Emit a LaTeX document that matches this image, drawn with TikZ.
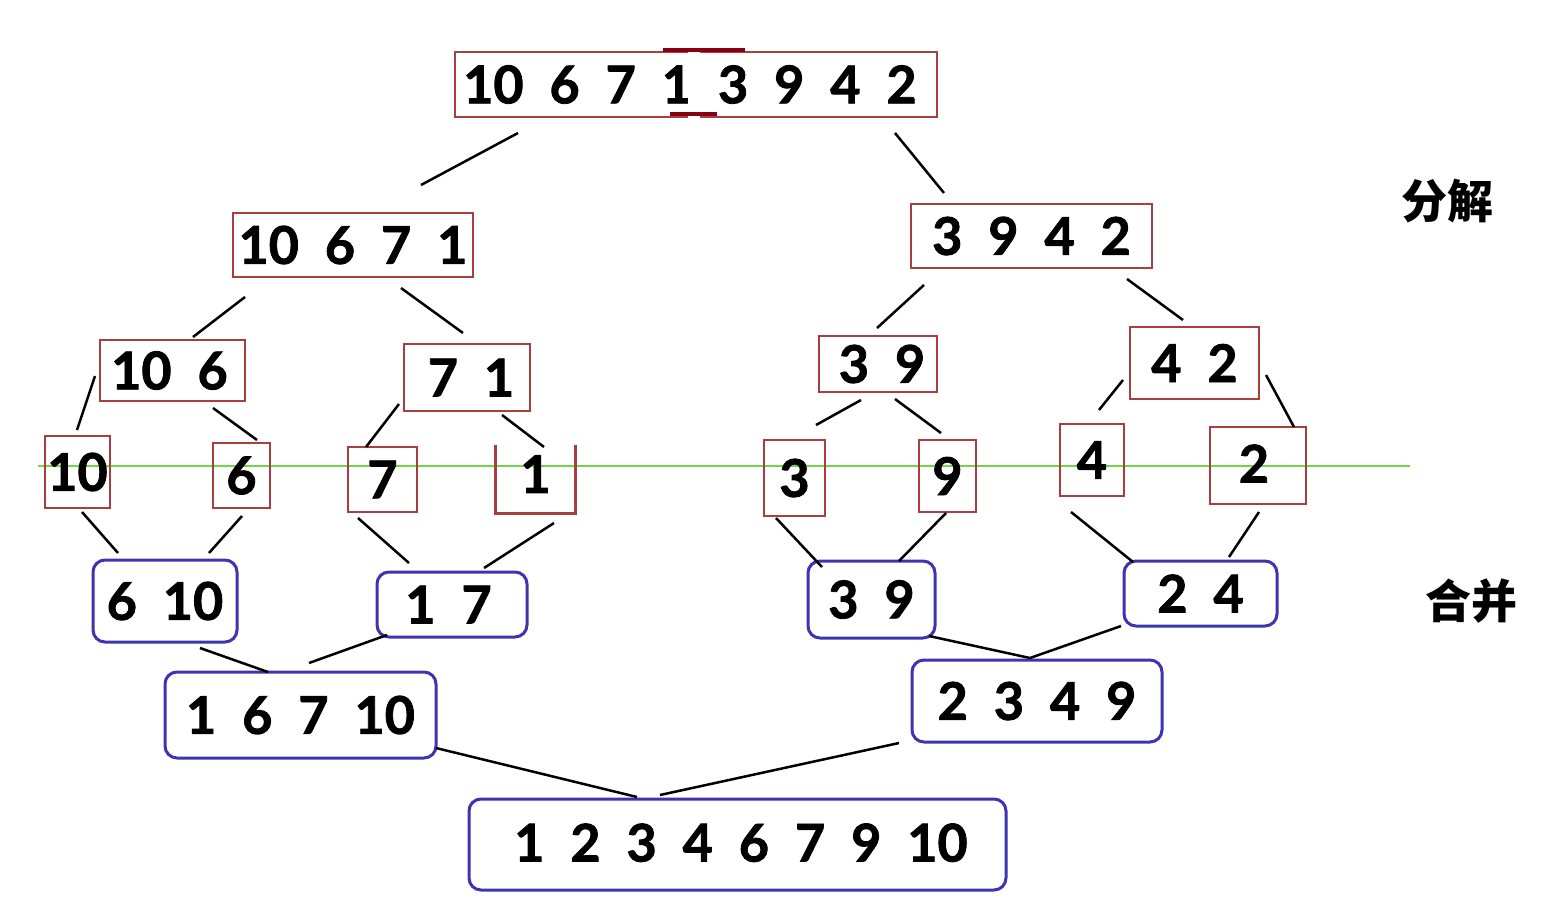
\documentclass[tikz,border=0pt]{standalone}
\usepackage{fontspec}
\setmainfont{Lato}[BoldFeatures={FakeBold=1.6}]
\newfontfamily\cjkfont{Noto Sans CJK SC}
\newcommand\numfont{\fontsize{52}{60}\selectfont\bfseries\spaceskip=0.5em\relax}
\newcommand\lnk[4]{\draw[link] ([shift={(#2)}]#1.center) -- ([shift={(#4)}]#3.center);}
\definecolor{splitred}{RGB}{170,62,62}
\definecolor{mergeblue}{RGB}{62,52,178}
\definecolor{markred}{RGB}{135,0,18}
\definecolor{midgreen}{RGB}{110,215,70}
\begin{document}
\begin{tikzpicture}[x=1pt,y=-1pt,
  splitbox/.style={draw=splitred,line width=2.8pt,inner sep=0pt,font=\numfont},
  mergebox/.style={draw=mergeblue,line width=3pt,rounded corners=12pt,inner sep=0pt,font=\numfont},
  link/.style={line width=2.5pt,black},
  tag/.style={font=\cjkfont\bfseries\fontsize{46}{50}\selectfont}]
\useasboundingbox (0,0) rectangle (1562,922);
\fill[white] (0,0) rectangle (1562,922);
\draw[midgreen,line width=2.4pt] (38,466) coordinate (gl) -- (1410,466) coordinate (gr);
% split level
\node[splitbox,minimum width=482pt,minimum height=65pt] (top) at (696,84.5) {\hspace{-12pt}10 6 7 1 3 9 4 2};
\node[splitbox,minimum width=240pt,minimum height=64pt] (sa) at (353,245) {10 6 7 1};
\node[splitbox,minimum width=241pt,minimum height=64pt] (sb) at (1031.5,236) {3 9 4 2};
\node[splitbox,minimum width=145pt,minimum height=61pt] (ta) at (172.5,370.5) {\hspace{-6pt}10 6};
\node[splitbox,minimum width=126pt,minimum height=67pt] (tb) at (467,377.5) {\hspace{8pt}7 1};
\node[splitbox,minimum width=118pt,minimum height=56pt] (tc) at (878,364) {\hspace{8pt}3 9};
\node[splitbox,minimum width=129pt,minimum height=72pt] (td) at (1194.5,363) {4 2};
% leaves
\node[splitbox,minimum width=65pt,minimum height=72pt] (la) at (77.5,472) {10};
\node[splitbox,minimum width=57pt,minimum height=65pt] (lb) at (241.5,475.5) {6};
\node[splitbox,minimum width=69pt,minimum height=65pt] (lc) at (382.5,479.5) {7};
\node[splitbox,draw=none,minimum width=77pt,minimum height=66pt] (ld) at (535.5,479) {\raisebox{10pt}{1}};
\draw[draw=splitred,line width=2.8pt] (ld.north west) -- (ld.south west) -- (ld.south east) -- (ld.north east);
\node[splitbox,minimum width=61pt,minimum height=76pt] (le) at (794.5,478) {\raisebox{-3pt}{3}};
\node[splitbox,minimum width=57pt,minimum height=72pt] (lf) at (947.5,476) {9};
\node[splitbox,minimum width=64pt,minimum height=72pt] (lg) at (1092,460) {4};
\node[splitbox,minimum width=96pt,minimum height=77pt] (lh) at (1258,465.5) {\hspace{-8pt}\raisebox{4pt}{2}};
% merge level
\node[mergebox,minimum width=144pt,minimum height=82pt] (ma) at (165,601) {6 10};
\node[mergebox,minimum width=150pt,minimum height=65pt] (mb) at (452,604.5) {\hspace{-7pt}1 7};
\node[mergebox,minimum width=127pt,minimum height=77pt] (mc) at (871.5,599.5) {3 9};
\node[mergebox,minimum width=153pt,minimum height=65pt] (md) at (1200.5,593.5) {2 4};
\node[mergebox,minimum width=271pt,minimum height=86pt] (na) at (300.5,715) {1 6 7 10};
\node[mergebox,minimum width=250pt,minimum height=82pt] (nb) at (1037,701) {2 3 4 9};
\node[mergebox,minimum width=537pt,minimum height=91pt] (fin) at (737.5,844.5) {\hspace{7pt}\raisebox{4pt}{1 2 3 4 6 7 9 10}};
% split marks on the top box
\fill[white] ([shift={(-8,-36)}]top.center) rectangle ([shift={(4,35)}]top.center);
\draw[markred,line width=4pt] ([shift={(-33,-35)}]top.center) -- ([shift={(49,-35)}]top.center);
\draw[markred,line width=4pt] ([shift={(-26,29.5)}]top.center) -- ([shift={(21,29.5)}]top.center);
% labels
\node[tag] (split) at (1447,201) {分解};
\node[tag] (merge) at (1471,601) {合并};
% connectors
\lnk{top}{-178,48.5}{sa}{68,-60}
\lnk{top}{199,48.5}{sb}{-87.5,-43}
\lnk{sa}{-108,52}{ta}{20.5,-33.5}
\lnk{sa}{48,43}{tb}{-4,-44.5}
\lnk{sb}{-107.5,49}{tc}{-1,-36}
\lnk{sb}{95.5,43}{td}{-11.5,-43}
\lnk{ta}{-77.5,5.5}{la}{-0.5,-42}
\lnk{ta}{40.5,37.5}{lb}{15.5,-35.5}
\lnk{tb}{-68,26.5}{lc}{-16.5,-32.5}
\lnk{tb}{35,37.5}{ld}{8.5,-32}
\lnk{tc}{-17,36}{le}{21.5,-53}
\lnk{tc}{17,35}{lf}{-6.5,-43}
\lnk{td}{-71.5,17}{lg}{7,-50}
\lnk{td}{71.5,12}{lh}{36,-38.5}
\lnk{la}{4.5,40}{ma}{-47,-48}
\lnk{lb}{0.5,40.5}{ma}{44,-48}
\lnk{lc}{-24.5,38.5}{mb}{-43,-41.5}
\lnk{ld}{18.5,44}{mb}{32,-36.5}
\lnk{le}{-18.5,40}{mc}{-49.5,-32.5}
\lnk{lf}{-1.5,37}{mc}{27.5,-38.5}
\lnk{lg}{-21,52}{md}{-67.5,-31.5}
\lnk{lh}{1,46.5}{md}{28.5,-36.5}
\lnk{ma}{35,47}{na}{-32.5,-43}
\lnk{mb}{-65,30.5}{na}{8.5,-52}
\lnk{mc}{57.5,36.5}{nb}{-7,-43}
\lnk{md}{-79.5,32.5}{nb}{-7,-43}
\lnk{na}{135.5,33}{fin}{-100.5,-47.5}
\lnk{nb}{-138,42}{fin}{-77.5,-49.5}
\end{tikzpicture}
\end{document}
